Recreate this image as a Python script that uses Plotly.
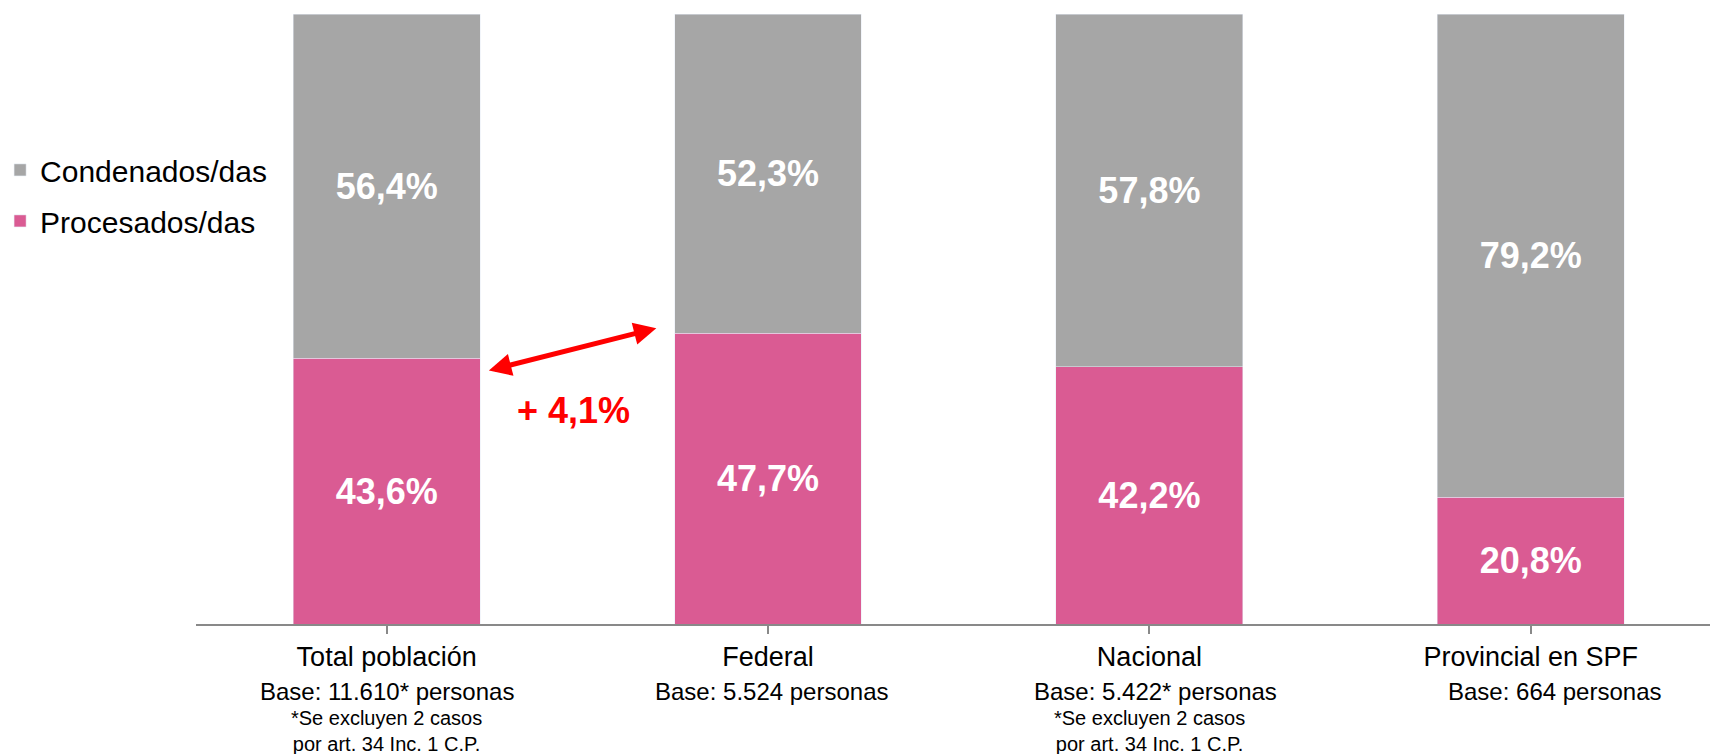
import plotly.graph_objects as go

categories = ["Total población", "Federal", "Nacional", "Provincial en SPF"]
procesados = [43.6, 47.7, 42.2, 20.8]
condenados = [56.4, 52.3, 57.8, 79.2]
base_labels = ["Base: 11.610* personas", "Base: 5.524 personas",
               "Base: 5.422* personas", "Base: 664 personas"]
base_shift = [0, 4, 6, 24]
footnote = "*Se excluyen 2 casos<br>por art. 34 Inc. 1 C.P."
footnote_cats = [0, 2]

PINK = "#DA5B93"
GREY = "#A6A6A6"
FONT = "Liberation Sans, Arial, sans-serif"

x = list(range(len(categories)))

fig = go.Figure()
fig.add_trace(go.Bar(
    x=x, y=procesados, name="Procesados/das", marker_color=PINK,
    width=0.49, texttemplate="%{y:.1f}%", textposition="inside",
    insidetextanchor="middle", textangle=0,
    textfont=dict(color="white", size=36, family=FONT, weight="bold"),
    legendgroup="p", legendrank=2,
))
fig.add_trace(go.Bar(
    x=x, y=condenados, name="Condenados/das", marker_color=GREY,
    width=0.49, texttemplate="%{y:.1f}%", textposition="inside",
    insidetextanchor="middle", textangle=0,
    textfont=dict(color="white", size=36, family=FONT, weight="bold"),
    legendgroup="c", legendrank=1,
))

annotations = []
for i, (lbl, sh) in enumerate(zip(base_labels, base_shift)):
    annotations.append(dict(
        x=i, y=-0.11, xref="x", yref="paper", xshift=sh, text=lbl,
        showarrow=False, yanchor="middle", xanchor="center",
        font=dict(size=24, family=FONT, color="black"),
    ))
for i in footnote_cats:
    annotations.append(dict(
        x=i, y=-0.175, xref="x", yref="paper", text=footnote,
        showarrow=False, yanchor="middle", xanchor="center",
        font=dict(size=20, family=FONT, color="black"),
    ))

# difference arrow between Total and Federal processed share
diff = procesados[1] - procesados[0]
annotations.append(dict(
    x=0.707, y=procesados[1] + 0.8, xref="x", yref="y",
    ax=0.264, ay=procesados[0] - 2.1, axref="x", ayref="y",
    text="", showarrow=True, arrowside="end+start",
    arrowhead=2, startarrowhead=2, arrowsize=0.9, startarrowsize=0.9,
    arrowwidth=5, arrowcolor="#FF0000", standoff=0, startstandoff=0,
))
annotations.append(dict(
    x=0.49, y=35, xref="x", yref="y",
    text=("+ %.1f%%" % diff).replace(".", ","), showarrow=False,
    font=dict(size=36, family=FONT, color="#FF0000", weight="bold"),
))

fig.update_layout(
    barmode="stack",
    width=1710, height=754,
    margin=dict(l=196, r=0, t=14, b=130),
    paper_bgcolor="white", plot_bgcolor="white",
    separators=",.",
    font=dict(family=FONT, color="black"),
    showlegend=True,
    legend=dict(
        x=-0.1294, xanchor="left", y=0.787, yanchor="top",
        traceorder="grouped", tracegroupgap=9,
        font=dict(size=30, family=FONT, color="black"),
        bgcolor="rgba(0,0,0,0)",
    ),
    annotations=annotations,
    bargap=0.51,
    hovermode=False,
)
fig.update_xaxes(
    range=[-0.5, 3.47], tickvals=x, ticktext=categories,
    tickson="boundaries", ticks="outside", ticklen=8, tickwidth=1.5,
    tickcolor="#898989", showline=True, linecolor="#898989", linewidth=2,
    showgrid=False, zeroline=False,
    tickfont=dict(size=27, family=FONT, color="black"),
    fixedrange=True,
)
fig.update_yaxes(range=[0, 100], visible=False, showgrid=False, fixedrange=True)

fig.write_html(
    "out.html",
    config={"displayModeBar": False},
    post_script="document.body.style.margin='0';document.body.style.overflow='hidden';",
)
